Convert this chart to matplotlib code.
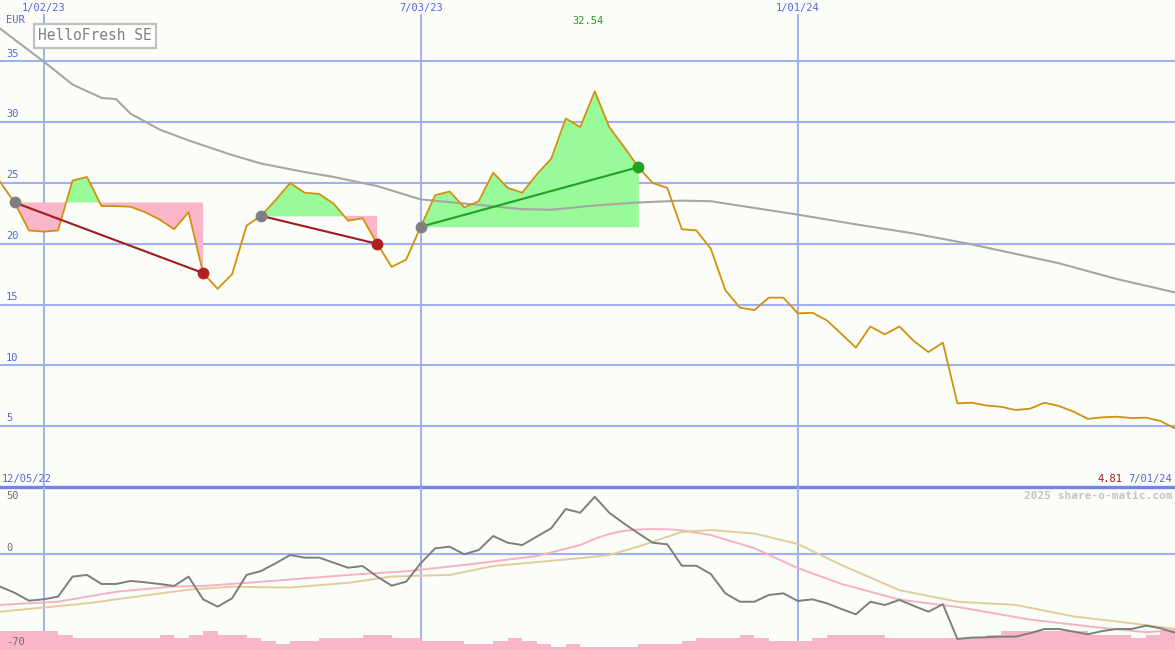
"""HelloFresh SE weekly chart with trades, moving average and oscillator panel."""

import matplotlib
import matplotlib.dates as mdates
import pandas as pd

matplotlib.use("Agg")
import matplotlib.pyplot as plt  # noqa: E402

W, H = 1175, 650

# weekly closes (EUR), Mondays from 12/12/22 to 7/01/24
price = [25.1, 23.4, 21.1, 21.0, 21.1, 25.2, 25.5, 23.1, 23.1, 23.05,
         22.6, 22.0, 21.2, 22.6, 17.6, 16.3, 17.5, 21.5, 22.3, 23.6,
         25.0, 24.2, 24.1, 23.3, 21.9, 22.1, 20.0, 18.1, 18.7, 21.4,
         24.0, 24.3, 23.0, 23.5, 25.85, 24.6, 24.2, 25.7, 27.0, 30.3,
         29.6, 32.54, 29.6, 28.0, 26.3, 25.0, 24.6, 21.2, 21.1, 19.6,
         16.2, 14.75, 14.55, 15.57, 15.57, 14.28, 14.33, 13.7, 12.6, 11.46,
         13.2, 12.55, 13.2, 12.0, 11.1, 11.87, 6.88, 6.93, 6.7, 6.6,
         6.33, 6.44, 6.93, 6.66, 6.2, 5.6, 5.73, 5.78, 5.67, 5.7,
         5.43, 4.81]

# long moving average (week index, EUR)
ma_idx = [0, 3, 5, 7, 8, 9, 11, 13, 16, 18, 21, 23, 26, 29, 33, 36, 38, 41,
          44, 47, 49, 55, 59, 63, 67, 73, 77, 81]
ma_val = [37.7, 35.0, 33.1, 32.0, 31.9, 30.7, 29.4, 28.5, 27.3, 26.6, 25.9,
          25.5, 24.75, 23.65, 23.2, 22.85, 22.8, 23.15, 23.4, 23.55, 23.5,
          22.4, 21.6, 20.85, 19.95, 18.4, 17.1, 16.0]

# trades: (buy week, sell week)
trades = [(1, 14), (18, 26), (29, 44)]

# oscillator panel
osc = [-30.6, -36.4, -44, -42.7, -40.2, -21.1, -19.5, -28.1, -28.1, -25.2,
       -26.5, -28.1, -30, -21.1, -42.7, -49.7, -41.7, -19.5, -15.7, -8.4,
       -0.5, -3, -3, -7.8, -12.6, -11, -21.1, -29.7, -25.9, -8.4,
       5.9, 7.4, 0.2, 4.3, 17.6, 11.2, 9.0, 17, 25, 43.3,
       39.8, 55, 39.8, 29.7, 20.2, 11.2, 9.7, -10.7, -10.7, -18.6,
       -37, -45, -45, -38.6, -37, -44.3, -42.7, -46.5, -51.9, -57,
       -45, -48.1, -43.3, -49, -54.5, -47.4, -80.5, -79.2, -78.9, -78.3,
       -78.3, -75, -71, -71, -73.5, -76, -72.9, -71, -71, -67.8,
       -70.3, -74.5]
sig1_idx = [0, 4, 8, 12, 14, 18, 24, 28, 32, 37, 40, 41, 42, 43, 44, 45, 46,
            47, 49, 52, 55, 58, 62, 66, 71, 76, 79, 81]
sig1_val = [-48, -45, -35.5, -30.5, -30, -26, -19.5, -16, -10, -1.5, 9, 15,
            19.5, 22.5, 23.8, 24.2, 24, 23, 18.5, 6, -13, -28, -43, -50, -62,
            -70, -74, -72]
sig2_idx = [0, 6, 13, 16, 20, 24, 27, 31, 34, 40, 42, 44, 47, 49, 52, 55, 58,
            62, 66, 70, 74, 78, 81]
sig2_val = [-54.5, -46.5, -33.5, -30.7, -31.5, -27, -21, -19.5, -11, -3.5,
            -0.5, 7.5, 21.5, 23.3, 20, 10, -10, -34, -45, -48, -59, -65.5, -71]

# relative weekly volume
volume = [19, 19, 19, 19, 15, 12, 12, 12, 12, 12, 12, 15, 12, 15, 19, 15, 15,
          12, 9, 6, 9, 9, 12, 12, 12, 15, 15, 12, 12, 9, 9, 9, 6, 6, 9, 12, 9,
          6, 3, 6, 3, 3, 3, 3, 6, 6, 6, 9, 12, 12, 12, 15, 12, 9, 9, 9, 12, 15,
          15, 15, 15, 12, 12, 12, 12, 12, 12, 12, 15, 19, 19, 19, 19, 19, 19,
          15, 15, 15, 12, 15, 19]

price_ticks = [5, 10, 15, 20, 25, 30, 35]
grid_dates = ["2023-01-02", "2023-07-03", "2024-01-01"]
grid_labels = ["1/02/23", "7/03/23", "1/01/24"]

BG = "#fbfdf8"
GRID = "#a3b0f0"
BLUE_TXT = "#5565e6"
MONO = "DejaVu Sans Mono"

dates = pd.date_range("2022-12-12", periods=len(price), freq="7D")
ps = pd.Series(price, index=dates)

fig = plt.figure(figsize=(W / 100, H / 100), dpi=100, facecolor=BG)
ax = fig.add_axes([0, 163 / H, 1, 487 / H])
ax2 = fig.add_axes([0, 0, 1, 163 / H])
axv = ax2.twinx()
for a in (ax, ax2, axv):
    a.set_axis_off()
ax.set_facecolor(BG)
ax2.set_zorder(axv.get_zorder() + 1)
ax2.patch.set_visible(False)
axv.patch.set_visible(True)
axv.patch.set_facecolor(BG)

# --- price panel ---
ax.set_xlim(dates[0], dates[-1])
ax.set_ylim(0, 40.05)
for v in price_ticks:
    ax.axhline(v, color=GRID, lw=1.5, zorder=0)
for d in grid_dates:
    ax.axvline(pd.Timestamp(d), ymax=(487 - 15) / 487, color=GRID, lw=1.4, zorder=0)
ax.axhline(0, color="#7383ea", lw=2.4, clip_on=False, zorder=6)

for b, s in trades:
    seg = ps.iloc[b:s + 1]
    level = price[b]
    ax.fill_between(seg.index, seg.values, level, where=seg.values >= level,
                    interpolate=True, color="#98fa98", lw=0, zorder=1)
    ax.fill_between(seg.index, seg.values, level, where=seg.values <= level,
                    interpolate=True, color="#f9b6c8", lw=0, zorder=1)

ax.plot(dates[ma_idx], ma_val, color="#a6a6a6", lw=1.5, zorder=2)
ax.plot(dates, price, color="#d4900c", lw=1.3, zorder=3)

for b, s in trades:
    win = price[s] > price[b]
    lc = "#22a022" if win else "#a01c1c"
    dc = "#22a022" if win else "#b02020"
    ax.plot([dates[b], dates[s]], [price[b], price[s]], color=lc, lw=1.5, zorder=4)
    ax.plot(dates[b], price[b], "o", color="#808080", ms=8.5, mec="none", zorder=5)
    ax.plot(dates[s], price[s], "o", color=dc, ms=8.5, mec="none", zorder=5)

ytr = ax.get_yaxis_transform()
for v in price_ticks:
    ax.annotate(str(v), (0.005, v), xycoords=ytr, xytext=(0, 2),
                textcoords="offset points", ha="left", va="bottom",
                color=BLUE_TXT, fontsize=7.5, family=MONO)

xtr = ax.get_xaxis_transform()
for d, lab in zip(grid_dates, grid_labels):
    ax.text(mdates.date2num(pd.Timestamp(d)), (487 - 8) / 487, lab, transform=xtr,
            ha="center", va="center", color=BLUE_TXT, fontsize=7.5, family=MONO)

peak = ps.idxmax()
ax.annotate(f"{ps.max():.2f}", (mdates.date2num(peak), (487 - 21) / 487),
            xycoords=xtr, xytext=(-5, 0), textcoords="offset points",
            ha="center", va="center", color="#22a022", fontsize=7.5, family=MONO)

fig.text(6 / W, 1 - 20 / H, "EUR", color=BLUE_TXT, fontsize=7.5, family=MONO,
         ha="left", va="center")
fig.text(95 / W, 1 - 36 / H, "HelloFresh SE", color="#808080", fontsize=10.5,
         family=MONO, ha="center", va="center",
         bbox=dict(boxstyle="square,pad=0.3", fc="white", ec="#c0c0c0", lw=1.6))
fig.text(2 / W, 1 - 479 / H, "12/05/22", color=BLUE_TXT, fontsize=7.5,
         family=MONO, ha="left", va="center")
fig.text(1172 / W, 1 - 479 / H, dates[-1].strftime("%-m/%d/%y"), color=BLUE_TXT,
         fontsize=7.5, family=MONO, ha="right", va="center")
fig.text(1122 / W, 1 - 479 / H, f"{price[-1]:.2f}", color="#a01c1c",
         fontsize=7.5, family=MONO, ha="right", va="center")

# --- oscillator panel ---
ax2.set_xlim(dates[0], dates[-1])
ax2.set_ylim(-91, 64.3)
axv.set_xlim(dates[0], dates[-1])
axv.set_ylim(0, 163)
ax2.axhline(0, color=GRID, lw=1.5, zorder=0)
for d in grid_dates:
    axv.axvline(pd.Timestamp(d), color=GRID, lw=1.4, zorder=0)
axv.bar(dates[:-1], volume, width=7, align="edge", color="#f9b6c8", lw=0, zorder=1)

ax2.plot(dates[sig1_idx], sig1_val, color="#f8b0c6", lw=1.4, zorder=2)
ax2.plot(dates[sig2_idx], sig2_val, color="#e2cc9c", lw=1.4, zorder=2)
ax2.plot(dates, osc, color="#7e7e7e", lw=1.4, zorder=3)

for lab, y in (("50", 496), ("0", 548), ("-70", 642)):
    fig.text(6 / W, 1 - y / H, lab, color="#707070", fontsize=7.5, family=MONO,
             ha="left", va="center")
fig.text(1172 / W, 1 - 496 / H, "2025 share-o-matic.com", color="#c4c4c4",
         fontsize=8, family=MONO, weight="bold", ha="right", va="center")

fig.savefig("out.png", dpi=100, facecolor=BG)
